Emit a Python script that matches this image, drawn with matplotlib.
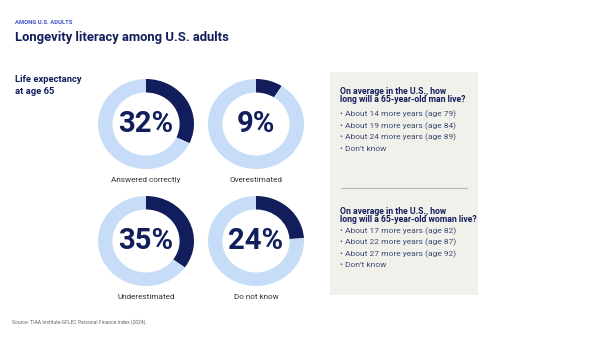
import matplotlib.pyplot as plt
from matplotlib.patches import Rectangle

# Data
shares = [32, 9, 35, 24]
share_labels = ["Answered correctly", "Overestimated", "Underestimated", "Do not know"]
man_question = "On average in the U.S., how\nlong will a 65-year-old man live?"
man_options = ["About 14 more years (age 79)", "About 19 more years (age 84)",
               "About 24 more years (age 89)", "Don't know"]
woman_question = "On average in the U.S., how\nlong will a 65-year-old woman live?"
woman_options = ["About 17 more years (age 82)", "About 22 more years (age 87)",
                 "About 27 more years (age 92)", "Don't know"]

NAVY = "#121d5b"
LIGHT = "#c6dcf7"
W, H = 599, 337

plt.rcParams['font.family'] = ['Roboto', 'DejaVu Sans']

fig = plt.figure(figsize=(W / 100, H / 100), dpi=100)
fig.patch.set_facecolor("white")
renderer = fig.canvas.get_renderer()


def fit(t, width):
    # scale the font size so the text spans about `width` pixels
    w = t.get_window_extent(renderer).width
    t.set_fontsize(t.get_fontsize() * width / w)
    return t


bg = fig.add_axes([0, 0, 1, 1])
bg.set_xlim(0, W)
bg.set_ylim(H, 0)
bg.axis("off")

fit(bg.text(15, 22, "AMONG U.S. ADULTS", fontsize=4, color="#3b4fc4", weight="bold",
            va="center"), 57)
fit(bg.text(15, 37, "Longevity literacy among U.S. adults", fontsize=12, color=NAVY,
            weight="bold", va="center"), 214)
t = fit(bg.text(15, 79, "Life expectancy", fontsize=6, color=NAVY, weight="bold",
                va="center"), 67)
bg.text(15, 91, "at age 65", fontsize=t.get_fontsize(), color=NAVY, weight="bold", va="center")

centers = [(146, 124), (256, 124), (146, 241), (256, 241)]
rx, ry = 48, 45
num_size = None
lab_size = None
for (cx, cy), val, lab in zip(centers, shares, share_labels):
    ax = fig.add_axes([(cx - rx) / W, 1 - (cy + ry) / H, 2 * rx / W, 2 * ry / H])
    ax.pie([val, 100 - val], colors=[NAVY, LIGHT], startangle=90, counterclock=False,
           wedgeprops=dict(width=0.3, linewidth=0))
    ax.set_aspect("auto")
    ax.set_xlim(-1, 1)
    ax.set_ylim(-1, 1)
    t = ax.text(0, 0, f"{val}%", ha="center", va="center", fontsize=20, color=NAVY,
                weight="bold")
    if num_size is None:
        num_size = fit(t, 55).get_fontsize()
    t.set_fontsize(num_size)
    t = bg.text(cx, cy + 56, lab, ha="center", va="center", fontsize=5.6, color="#333333")
    if lab_size is None:
        lab_size = fit(t, 69).get_fontsize()
    t.set_fontsize(lab_size)

bg.add_patch(Rectangle((330, 72), 148, 223, facecolor="#f1f1ec", edgecolor="none"))
bg.plot([341, 467], [188, 188], color="#b8b8b8", lw=0.8)

probe = bg.text(0, 0, "long will a 65-year-old man live?", fontsize=6, weight="bold")
q_size = fit(probe, 127).get_fontsize()
probe.remove()
probe = bg.text(0, 0, "\u2022 About 14 more years (age 79)", fontsize=6)
o_size = fit(probe, 116).get_fontsize()
probe.remove()


def question(ys_q, q, opts, ys):
    for y, line in zip(ys_q, q.split("\n")):
        bg.text(340, y, line, fontsize=q_size, color=NAVY, weight="bold", va="center")
    for y, o in zip(ys, opts):
        bg.text(340, y, "\u2022 " + o, fontsize=o_size, color="#3e4a72", va="center")


question([92, 100], man_question, man_options, [114, 126, 137, 149])
question([212, 220], woman_question, woman_options, [231, 242, 254, 265])

fit(bg.text(12, 322, "Source: TIAA Institute-GFLEC Personal Finance Index (2024).",
            fontsize=3.3, color="#666666", va="center"), 136)

fig.savefig("out.png", dpi=100)
